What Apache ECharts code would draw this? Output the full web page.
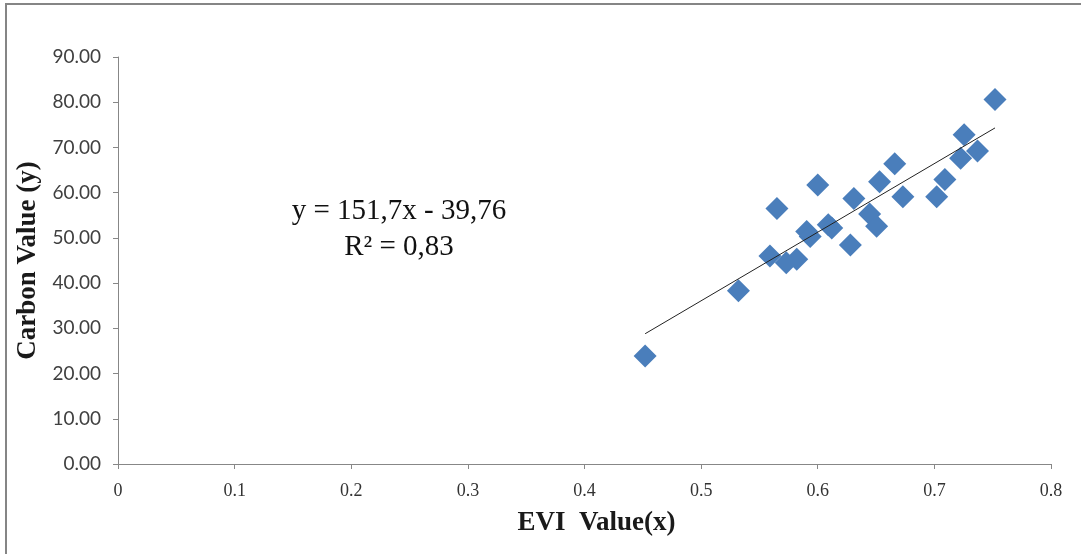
<!DOCTYPE html>
<html>
<head>
<meta charset="utf-8">
<script src="https://cdn.jsdelivr.net/npm/echarts@6/dist/echarts.min.js"></script>
<style>
html,body{margin:0;padding:0;background:#fff;}
#chart{width:1081px;height:554px;}
</style>
</head>
<body>
<div id="chart"></div>
<script>
// EVI values (x)
const eviValues = [0.452, 0.532, 0.559, 0.565, 0.573, 0.582, 0.5905, 0.5935, 0.600, 0.609, 0.612,
  0.628, 0.631, 0.6445, 0.6505, 0.653, 0.666, 0.673, 0.702, 0.709, 0.7225, 0.7255, 0.737, 0.752];
// Carbon values (y)
const carbonValues = [23.9, 38.3, 46.0, 56.5, 44.5, 45.3, 51.4, 50.3, 61.7, 52.9, 52.2,
  48.4, 58.7, 55.3, 52.6, 62.4, 66.4, 59.1, 59.1, 62.9, 67.6, 72.8, 69.2, 80.6];
// Trendline coefficients as printed on the chart
const slope = 151.7;
const intercept = -39.76;
const equationText = 'y = 151,7x - 39,76';
const r2Text = 'R² = 0,83';
const xTicks = [0, 0.1, 0.2, 0.3, 0.4, 0.5, 0.6, 0.7, 0.8];
const yTicks = [0, 10, 20, 30, 40, 50, 60, 70, 80, 90];

const points = eviValues.map((x, i) => [x, carbonValues[i]]);
const xMinData = Math.min(...eviValues);
const xMaxData = Math.max(...eviValues);
const trend = [[xMinData, slope * xMinData + intercept], [xMaxData, slope * xMaxData + intercept]];

const chart = echarts.init(document.getElementById('chart'));
chart.setOption({
  animation: false,
  grid: {left: 118, right: 30, top: 57, bottom: 90, containLabel: false},
  xAxis: {
    type: 'value', min: xTicks[0], max: xTicks[xTicks.length - 1], interval: 0.1,
    name: 'EVI  Value(x)', nameLocation: 'middle', nameGap: 46,
    nameTextStyle: {fontFamily: 'Liberation Serif', fontWeight: 'bold', fontSize: 27, color: '#1a1a1a', padding: [0, 0, 0, 24]},
    axisLine: {show: true, lineStyle: {color: '#878787', width: 1}},
    axisTick: {show: true, length: 5, lineStyle: {color: '#878787'}},
    splitLine: {show: false},
    axisLabel: {fontFamily: 'Liberation Serif', fontSize: 18, color: '#333', margin: 18,
      formatter: v => (Math.round(v * 10) / 10).toString()}
  },
  yAxis: {
    type: 'value', min: yTicks[0], max: yTicks[yTicks.length - 1], interval: 10,
    name: 'Carbon Value (y)', nameLocation: 'middle', nameGap: 72, nameRotate: 90,
    nameTextStyle: {fontFamily: 'Liberation Serif', fontWeight: 'bold', fontSize: 27, color: '#1a1a1a'},
    axisLine: {show: true, lineStyle: {color: '#878787', width: 1}},
    axisTick: {show: true, length: 5, lineStyle: {color: '#878787'}},
    splitLine: {show: false},
    axisLabel: {fontFamily: 'Lato', fontSize: 19, color: '#404040', margin: 17,
      formatter: v => v.toFixed(2)}
  },
  series: [
    {
      type: 'line', data: trend, showSymbol: false, symbol: 'none',
      lineStyle: {color: '#222', width: 1}, z: 3, silent: true
    },
    {
      type: 'scatter', data: points, symbol: 'diamond', symbolSize: 23,
      itemStyle: {color: '#4A7EBB', opacity: 1}, z: 2
    }
  ],
  graphic: [
    {type: 'line', shape: {x1: 5, y1: 4, x2: 1081, y2: 4}, style: {stroke: '#858585', lineWidth: 2}},
    {type: 'line', shape: {x1: 6, y1: 4, x2: 6, y2: 554}, style: {stroke: '#858585', lineWidth: 2}},
    {type: 'text', x: 399, y: 211, style: {text: equationText, fontFamily: 'Liberation Serif', fontSize: 29, fill: '#111', textAlign: 'center', textVerticalAlign: 'middle'}},
    {type: 'text', x: 399, y: 247, style: {text: r2Text, fontFamily: 'Liberation Serif', fontSize: 29, fill: '#111', textAlign: 'center', textVerticalAlign: 'middle'}}
  ]
});
</script>
</body>
</html>
